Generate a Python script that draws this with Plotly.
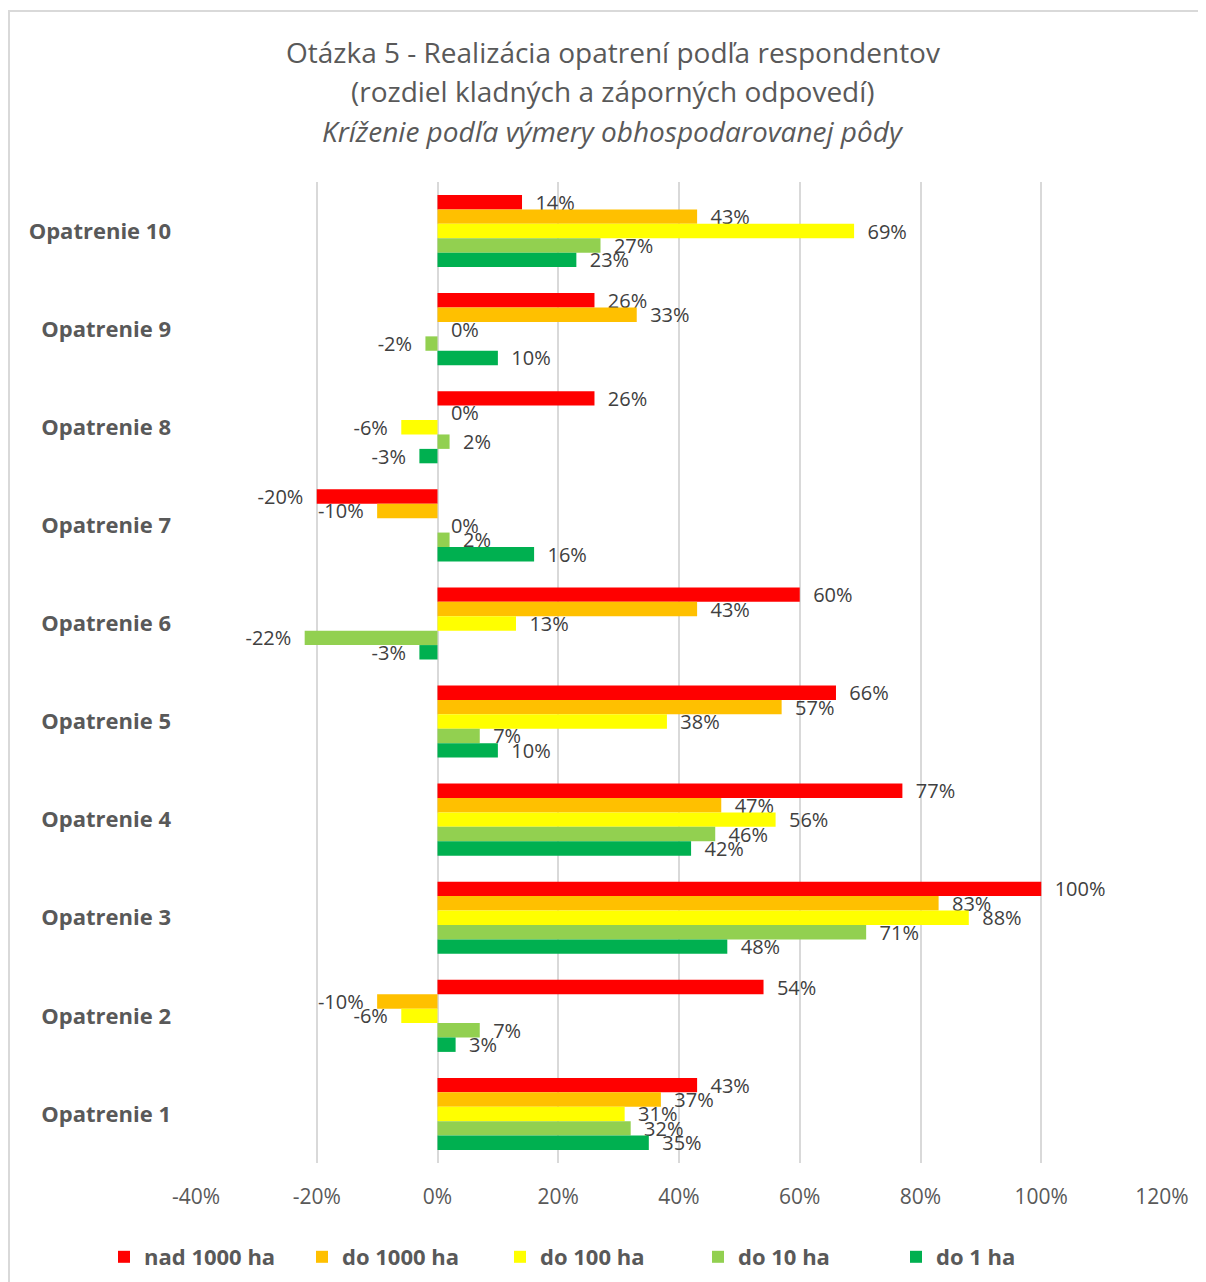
import plotly.graph_objects as go

categories = ["Opatrenie 10", "Opatrenie 9", "Opatrenie 8", "Opatrenie 7", "Opatrenie 6",
              "Opatrenie 5", "Opatrenie 4", "Opatrenie 3", "Opatrenie 2", "Opatrenie 1"]

series_names = ["nad 1000 ha", "do 1000 ha", "do 100 ha", "do 10 ha", "do 1 ha"]
series_colors = ["#FF0000", "#FFC000", "#FFFF00", "#92D050", "#00B050"]

# values in percent, order matches categories (Opatrenie 10 ... Opatrenie 1)
nad_1000 = [14, 26, 26, -20, 60, 66, 77, 100, 54, 43]
do_1000 = [43, 33, 0, -10, 43, 57, 47, 83, -10, 37]
do_100 = [69, 0, -6, 0, 13, 38, 56, 88, -6, 31]
do_10 = [27, -2, 2, 2, -22, 7, 46, 71, 7, 32]
do_1 = [23, 10, -3, 16, -3, 10, 42, 48, 3, 35]

series_values = [nad_1000, do_1000, do_100, do_10, do_1]

x_ticks = [-40, -20, 0, 20, 40, 60, 80, 100, 120]

OFF = 8  # page body margin
W, H = 1206, 1282
# plot area in page pixels
PL, PR, PT, PB = 196, 1162, 182, 1163
L, R, T, B = PL - OFF, PR - OFF, PT - OFF, PB - OFF
pw, ph = R - L, B - T


def px_x(X):
    return (X - OFF - L) / pw


def px_y(Y):
    return (B - (Y - OFF)) / ph


FONT = "Open Sans"
NB = "\u00a0"

fig = go.Figure()
for name, color, vals in zip(series_names, series_colors, series_values):
    fig.add_trace(go.Bar(
        name=name,
        y=categories,
        x=[v / 100 for v in vals],
        orientation="h",
        marker=dict(color=color, line=dict(width=0)),
        text=[f"{NB}{NB}{v}%{NB}{NB}" for v in vals],
        textposition="outside",
        textfont=dict(family=FONT, size=20, color="#404040"),
        constraintext="none",
        cliponaxis=False,
        hoverinfo="x+y+name",
    ))

fig.update_layout(
    width=W, height=H,
    margin=dict(l=L, r=W - R, t=T, b=H - B),
    paper_bgcolor="white",
    plot_bgcolor="white",
    barmode="group",
    bargap=0.265,
    bargroupgap=0,
    font=dict(family=FONT, color="#595959"),
    showlegend=True,
    legend=dict(
        orientation="h",
        x=px_x(104), xanchor="left",
        y=px_y(1257), yanchor="middle",
        font=dict(family=FONT, size=22, color="#595959", weight="bold"),
        entrywidth=153,
        entrywidthmode="pixels",
        traceorder="normal",
    ),
    xaxis=dict(
        range=[-0.4, 1.2],
        tickvals=[t / 100 for t in x_ticks],
        ticktext=[f"{t}%" for t in x_ticks],
        showgrid=True,
        gridcolor="#D9D9D9",
        gridwidth=1.5,
        zeroline=True,
        zerolinecolor="#D9D9D9",
        zerolinewidth=1.5,
        showline=False,
        ticks="",
        ticklabelstandoff=19,
        tickfont=dict(family=FONT, size=21, color="#595959"),
        fixedrange=True,
    ),
    yaxis=dict(
        categoryorder="array",
        categoryarray=categories,
        autorange="reversed",
        showgrid=False,
        showline=False,
        ticks="",
        ticklabelstandoff=24,
        tickfont=dict(family=FONT, size=22, color="#595959", weight="bold"),
        fixedrange=True,
    ),
)

# title lines
title_lines = [
    ("Otázka 5 - Realizácia opatrení podľa respondentov", 52),
    ("(rozdiel kladných a záporných odpovedí)", 91),
    ("<i>Kríženie podľa výmery obhospodarovanej pôdy</i>", 131),
]
for txt, yy in title_lines:
    fig.add_annotation(
        text=txt, xref="paper", yref="paper",
        x=px_x(613), y=px_y(yy), xanchor="center", yanchor="middle",
        showarrow=False,
        font=dict(family=FONT, size=28, color="#595959"),
    )

# chart border
fig.add_shape(
    type="rect", xref="paper", yref="paper",
    x0=px_x(9), x1=px_x(1230), y0=px_y(1310), y1=px_y(11),
    line=dict(color="#D9D9D9", width=2),
    fillcolor="rgba(0,0,0,0)",
    layer="below",
)

fig.write_html("out.html")
